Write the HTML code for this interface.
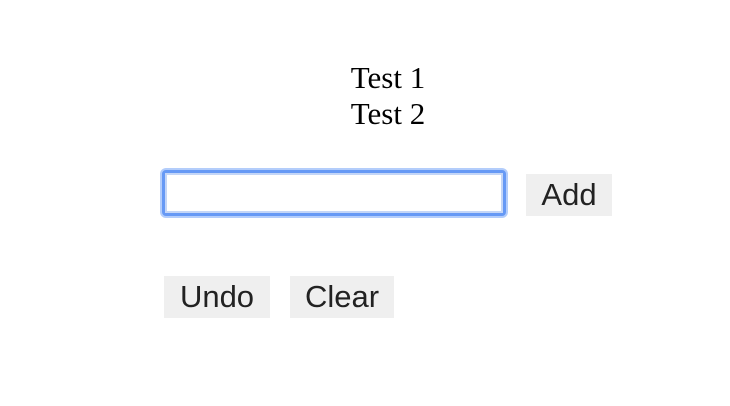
<!DOCTYPE html>
<html><head><style>
body{margin:0;width:730px;height:406px;background:#fff;position:relative;overflow:hidden}
.t{position:absolute;left:0;width:776px;text-align:center;font:31px/36px "Liberation Serif",serif;color:#000}
.inp{position:absolute;left:162px;top:170px;width:338px;height:40px;border:3px solid #6699f5;box-shadow:0 0 0 2px #b3cdfb;border-radius:4px;background:#fff}
.inp:after{content:"";position:absolute;left:0;top:0;right:0;bottom:0;border:2px solid #c4d6f7}
.b{position:absolute;background:#efefef;font:31px/42px "Liberation Sans",sans-serif;color:#222;text-align:center;height:42px}
</style></head><body>
<div class="t" style="top:60px">Test 1</div>
<div class="t" style="top:96px">Test 2</div>
<div class="inp"></div>
<div class="b" style="left:526px;top:174px;width:86px">Add</div>
<div class="b" style="left:164px;top:276px;width:106px">Undo</div>
<div class="b" style="left:290px;top:276px;width:104px">Clear</div>
</body></html>
